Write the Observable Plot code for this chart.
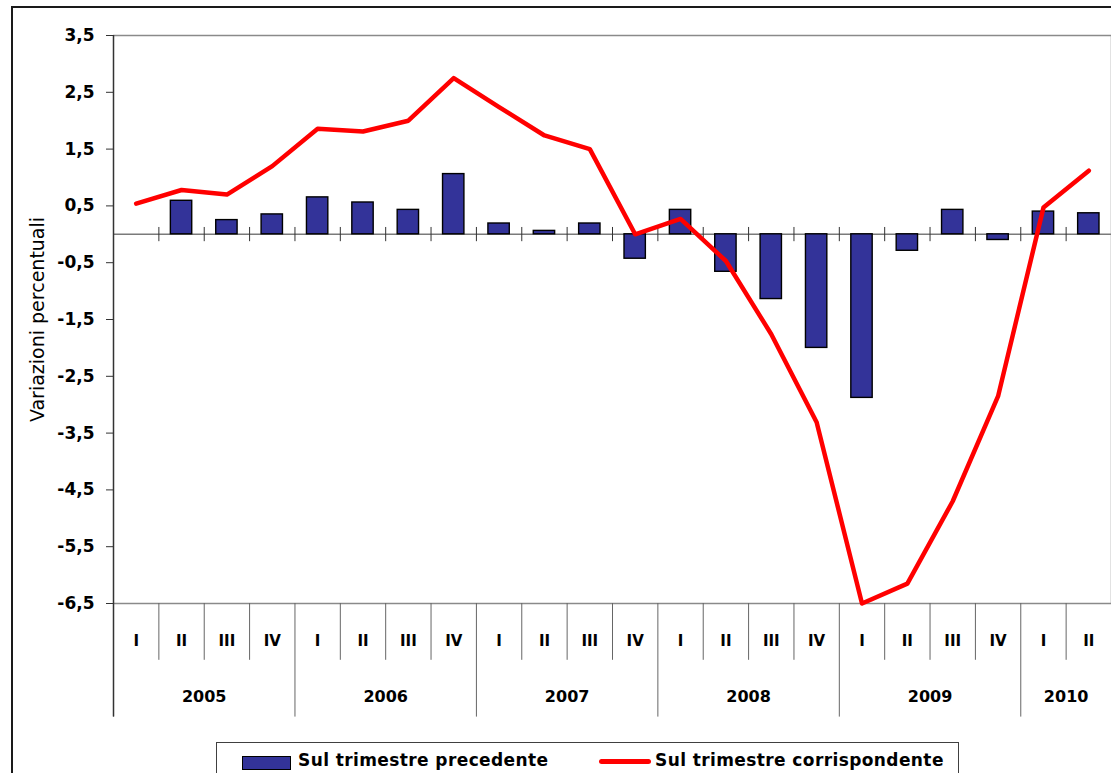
<!DOCTYPE html>
<html>
<head>
<meta charset="utf-8">
<script src="https://cdn.jsdelivr.net/npm/d3@7"></script>
<script src="https://cdn.jsdelivr.net/npm/@observablehq/plot@0.6"></script>
<style>
html, body { margin: 0; padding: 0; background: #fff; overflow: hidden; }
#wrap { position: relative; width: 1111px; height: 773px; overflow: hidden; font-family: "DejaVu Sans", sans-serif; color: #000; }
#chart { position: absolute; left: 0; top: 0; }
#frame { position: absolute; left: 11px; top: 6px; width: 1200px; height: 900px; border: 2px solid #1a1a1a; box-sizing: border-box; pointer-events: none; }
#legend { position: absolute; left: 216px; top: 742px; width: 743px; height: 60px; border: 1px solid #404040; box-sizing: border-box; background: #fff; }
#legend .sw-bar { position: absolute; left: 25px; top: 13px; width: 49px; height: 14px; background: #333399; border: 1.5px solid #000; box-sizing: border-box; }
#legend .sw-line { position: absolute; left: 382px; top: 16px; width: 52px; height: 5px; background: #ff0000; border-radius: 3px; }
#legend .lbl { position: absolute; top: 7px; font-size: 17px; font-weight: bold; line-height: 20px; white-space: nowrap; letter-spacing: 0.4px; }
</style>
</head>
<body>
<div id="wrap">
  <div id="chart"></div>
  <div id="legend"></div>
  <div id="frame"></div>
</div>
<script>
// ---- data ----
const quarterLabels = ["I","II","III","IV","I","II","III","IV","I","II","III","IV","I","II","III","IV","I","II","III","IV","I","II"];
const yearLabels = ["2005","2006","2007","2008","2009","2010"];
const quartersPerYear = [4, 4, 4, 4, 4, 2];
// Sul trimestre precedente (bars)
const barValues = [null, 0.59, 0.25, 0.35, 0.65, 0.56, 0.43, 1.06, 0.19, 0.06, 0.19, -0.43, 0.43, -0.66, -1.14, -2.00, -2.88, -0.29, 0.43, -0.10, 0.40, 0.37];
// Sul trimestre corrispondente (line)
const lineValues = [0.54, 0.78, 0.70, 1.20, 1.86, 1.81, 2.00, 2.75, 2.24, 1.74, 1.50, 0.00, 0.27, -0.47, -1.76, -3.31, -6.50, -6.15, -4.70, -2.85, 0.47, 1.12];
const yTicks = [3.5, 2.5, 1.5, 0.5, -0.5, -1.5, -2.5, -3.5, -4.5, -5.5, -6.5];
const seriesNames = ["Sul trimestre precedente", "Sul trimestre corrispondente"];
const yTitle = "Variazioni percentuali";

// ---- derived tables ----
const rows = quarterLabels.map((q, i) => ({ i, q, bar: barValues[i], line: lineValues[i] }));
const n = rows.length;
let acc = 0;
const years = yearLabels.map((label, k) => {
  const start = acc; acc += quartersPerYear[k];
  return { label, start, end: acc };
});
const yearBounds = [0, ...years.map(d => d.end)];
const allBounds = d3.range(0, n + 1);
const quarterBounds = allBounds.filter(b => !yearBounds.includes(b));
const fmt = d => d.toFixed(1).replace(".", ",");

const yMin = yTicks[yTicks.length - 1], yMax = yTicks[0];
const grey = "#8a8a8a";

const chart = Plot.plot({
  width: 1111,
  height: 740,
  marginTop: 35,
  marginLeft: 113,
  marginRight: 0,
  marginBottom: 137,
  style: { background: "transparent", fontFamily: "DejaVu Sans, sans-serif", overflow: "visible", color: "#000" },
  x: { type: "linear", domain: [0, n], axis: null },
  y: { domain: [yMin, yMax], axis: null },
  marks: [
    // plot area border (top, right, bottom)
    Plot.ruleY([yMax], { stroke: grey, strokeWidth: 1.5 }),
    Plot.ruleX([n], { y1: yMin, y2: yMax, stroke: grey, strokeWidth: 1.5 }),
    Plot.ruleY([yMin], { stroke: grey, strokeWidth: 1.5 }),
    // zero axis with category ticks
    Plot.ruleY([0], { stroke: "#7a7a7a", strokeWidth: 1.5 }),
    Plot.ruleX(allBounds.slice(1), { y1: -0.13, y2: 0.12, stroke: "#333", strokeWidth: 1 }),
    // category table below
    Plot.ruleX(quarterBounds, { y1: yMin, y2: yMin - 1, stroke: "#666", strokeWidth: 1 }),
    Plot.ruleX(yearBounds, { y1: yMin, y2: yMin - 2, stroke: "#666", strokeWidth: 1 }),
    // left axis line
    Plot.ruleX([0], { y1: yMin - 2, y2: yMax, stroke: "#333", strokeWidth: 1.5 }),
    Plot.axisY({ ticks: yTicks, tickFormat: fmt, tickSize: 7, tickPadding: 12, fontSize: 17, fontWeight: "bold", label: null, stroke: "#333" }),
    // bars
    Plot.rect(rows.filter(d => d.bar != null), {
      x1: d => d.i, x2: d => d.i + 1, y1: 0, y2: "bar",
      insetLeft: 12, insetRight: 12,
      fill: "#333399", stroke: "#000", strokeWidth: 1.4
    }),
    // line
    Plot.line(rows, {
      x: d => d.i + 0.5, y: "line",
      stroke: "#ff0000", strokeWidth: 4.5, strokeLinejoin: "round", strokeLinecap: "round"
    }),
    // quarter labels
    Plot.text(rows, { x: d => d.i + 0.5, y: yMin - 0.66, text: "q", fontSize: 15, fontWeight: "bold", fill: "#000" }),
    // year labels
    Plot.text(years, { x: d => (d.start + d.end) / 2, y: yMin - 1.64, text: "label", fontSize: 16, fontWeight: "bold", fill: "#000" }),
    // y title
    Plot.text([yTitle], { frameAnchor: "left", dx: -76, rotate: -90, fontSize: 19, textAnchor: "middle", fill: "#000" })
  ]
});
document.getElementById("chart").appendChild(chart);

// legend
const legend = document.getElementById("legend");
legend.innerHTML = `
  <div class="sw-bar"></div>
  <div class="lbl" style="left:81px">${seriesNames[0]}</div>
  <div class="sw-line"></div>
  <div class="lbl" style="left:438px">${seriesNames[1]}</div>`;
</script>
</body>
</html>
